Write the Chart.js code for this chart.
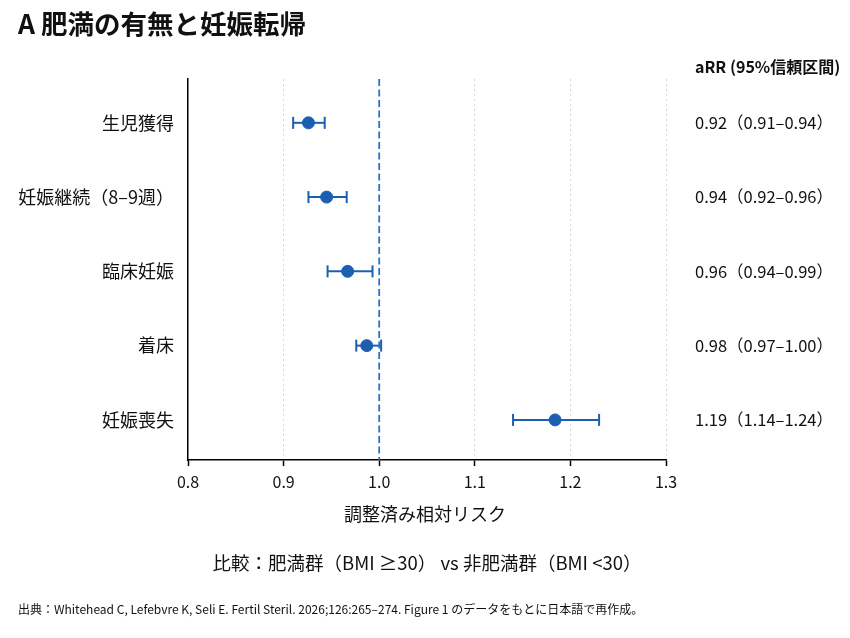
<!DOCTYPE html>
<html>
  <head>
    <meta charset="utf-8" />
    <title>肥満の有無と妊娠転帰</title>
    <style>
      body { margin: 0; background: #fff; }
    </style>
  </head>
  <body>
    <canvas id="forest" width="850" height="638"></canvas>

    <script src="https://cdn.jsdelivr.net/npm/chart.js"></script>
    <script>
      // データ
      const categories = ["生児獲得", "妊娠継続（8–9週）", "臨床妊娠", "着床", "妊娠喪失"];
      const estimates = [0.926, 0.945, 0.967, 0.987, 1.184];
      const lower = [0.910, 0.926, 0.946, 0.976, 1.140];
      const upper = [0.943, 0.966, 0.993, 1.002, 1.230];
      const ciLabels = [
        "0.92（0.91–0.94）",
        "0.94（0.92–0.96）",
        "0.96（0.94–0.99）",
        "0.98（0.97–1.00）",
        "1.19（1.14–1.24）",
      ];
      const xTicks = [0.8, 0.9, 1.0, 1.1, 1.2, 1.3];
      const refValue = 1.0;

      const FONT = "'Noto Sans CJK JP', 'Noto Sans', sans-serif";
      const BLUE = "#1c5fb0";

      const yMin = -0.59;
      const yMax = 4.54;

      // 信頼区間（キャップ付きの線）
      const ciSets = categories.map((c, i) => ({
        type: "line",
        label: c,
        data: [
          { x: lower[i], y: i },
          { x: upper[i], y: i },
        ],
        showLine: true,
        borderColor: BLUE,
        borderWidth: 2,
        pointStyle: "line",
        rotation: 90,
        pointRadius: 6,
        pointBorderWidth: 2,
        pointBorderColor: BLUE,
      }));

      const textPlugin = {
        id: "texts",
        afterDraw(chart) {
          const ctx = chart.ctx;
          const y = chart.scales.y;
          ctx.save();
          ctx.fillStyle = "#111";
          ctx.textBaseline = "middle";

          ctx.font = "bold 26.5px " + FONT;
          ctx.textAlign = "left";
          ctx.fillText("A 肥満の有無と妊娠転帰", 18, 24);

          ctx.font = "bold 16px " + FONT;
          ctx.fillText("aRR (95%信頼区間)", 695, 67);

          ctx.font = "16.5px " + FONT;
          ciLabels.forEach((t, i) => {
            ctx.fillText(t, 695, y.getPixelForValue(i));
          });

          ctx.textAlign = "center";
          ctx.font = "18px " + FONT;
          ctx.fillText("調整済み相対リスク", 425, 514);

          ctx.font = "18.5px " + FONT;
          ctx.fillText("比較：肥満群（BMI ≥30） vs 非肥満群（BMI <30）", 427, 563);

          ctx.textAlign = "left";
          ctx.font = "12px " + FONT;
          ctx.fillText(
            "出典：Whitehead C, Lefebvre K, Seli E. Fertil Steril. 2026;126:265–274. Figure 1 のデータをもとに日本語で再作成。",
            18,
            609
          );
          ctx.restore();
        },
      };

      new Chart(document.getElementById("forest"), {
        type: "scatter",
        data: {
          datasets: [
            {
              type: "line",
              label: "ref",
              data: [
                { x: refValue, y: yMin },
                { x: refValue, y: yMax },
              ],
              showLine: true,
              borderColor: "#2f72c4",
              borderWidth: 1.8,
              borderDash: [7, 3.5],
              pointRadius: 0,
            },
            ...ciSets,
            {
              label: "aRR",
              data: estimates.map((v, i) => ({ x: v, y: i })),
              backgroundColor: BLUE,
              borderColor: BLUE,
              pointRadius: 6,
              pointHoverRadius: 6,
            },
          ],
        },
        options: {
          responsive: false,
          animation: false,
          layout: { padding: { left: 0, top: 79, right: 184, bottom: 0 } },
          plugins: { legend: { display: false }, tooltip: { enabled: false } },
          scales: {
            x: {
              type: "linear",
              min: 0.8,
              max: 1.3,
              afterFit: (axis) => { axis.height = 178; },
              afterBuildTicks: (axis) => { axis.ticks = xTicks.map((v) => ({ value: v })); },
              ticks: {
                color: "#111",
                font: { family: FONT, size: 16 },
                padding: 6,
                callback: (v) => Number(v).toFixed(1),
              },
              grid: {
                color: (c) => (c.tick && (c.tick.value === 0.8 || c.tick.value === 1.0) ? "rgba(0,0,0,0)" : "#d6d6d6"),
                lineWidth: 1,
                tickLength: 6,
                tickColor: "#000",
                tickWidth: 1.5,
              },
              border: { display: true, color: "#000", width: 1.5, dash: [2, 3] },
            },
            y: {
              type: "linear",
              reverse: true,
              min: yMin,
              max: yMax,
              afterFit: (axis) => { axis.width = 188; },
              afterBuildTicks: (axis) => { axis.ticks = categories.map((c, i) => ({ value: i })); },
              ticks: {
                color: "#111",
                font: { family: FONT, size: 18 },
                padding: 14,
                callback: (v) => categories[v] ?? "",
              },
              grid: { display: false, drawTicks: false },
              border: { display: true, color: "#000", width: 1.5 },
            },
          },
        },
        plugins: [textPlugin],
      });
    </script>
  </body>
</html>
